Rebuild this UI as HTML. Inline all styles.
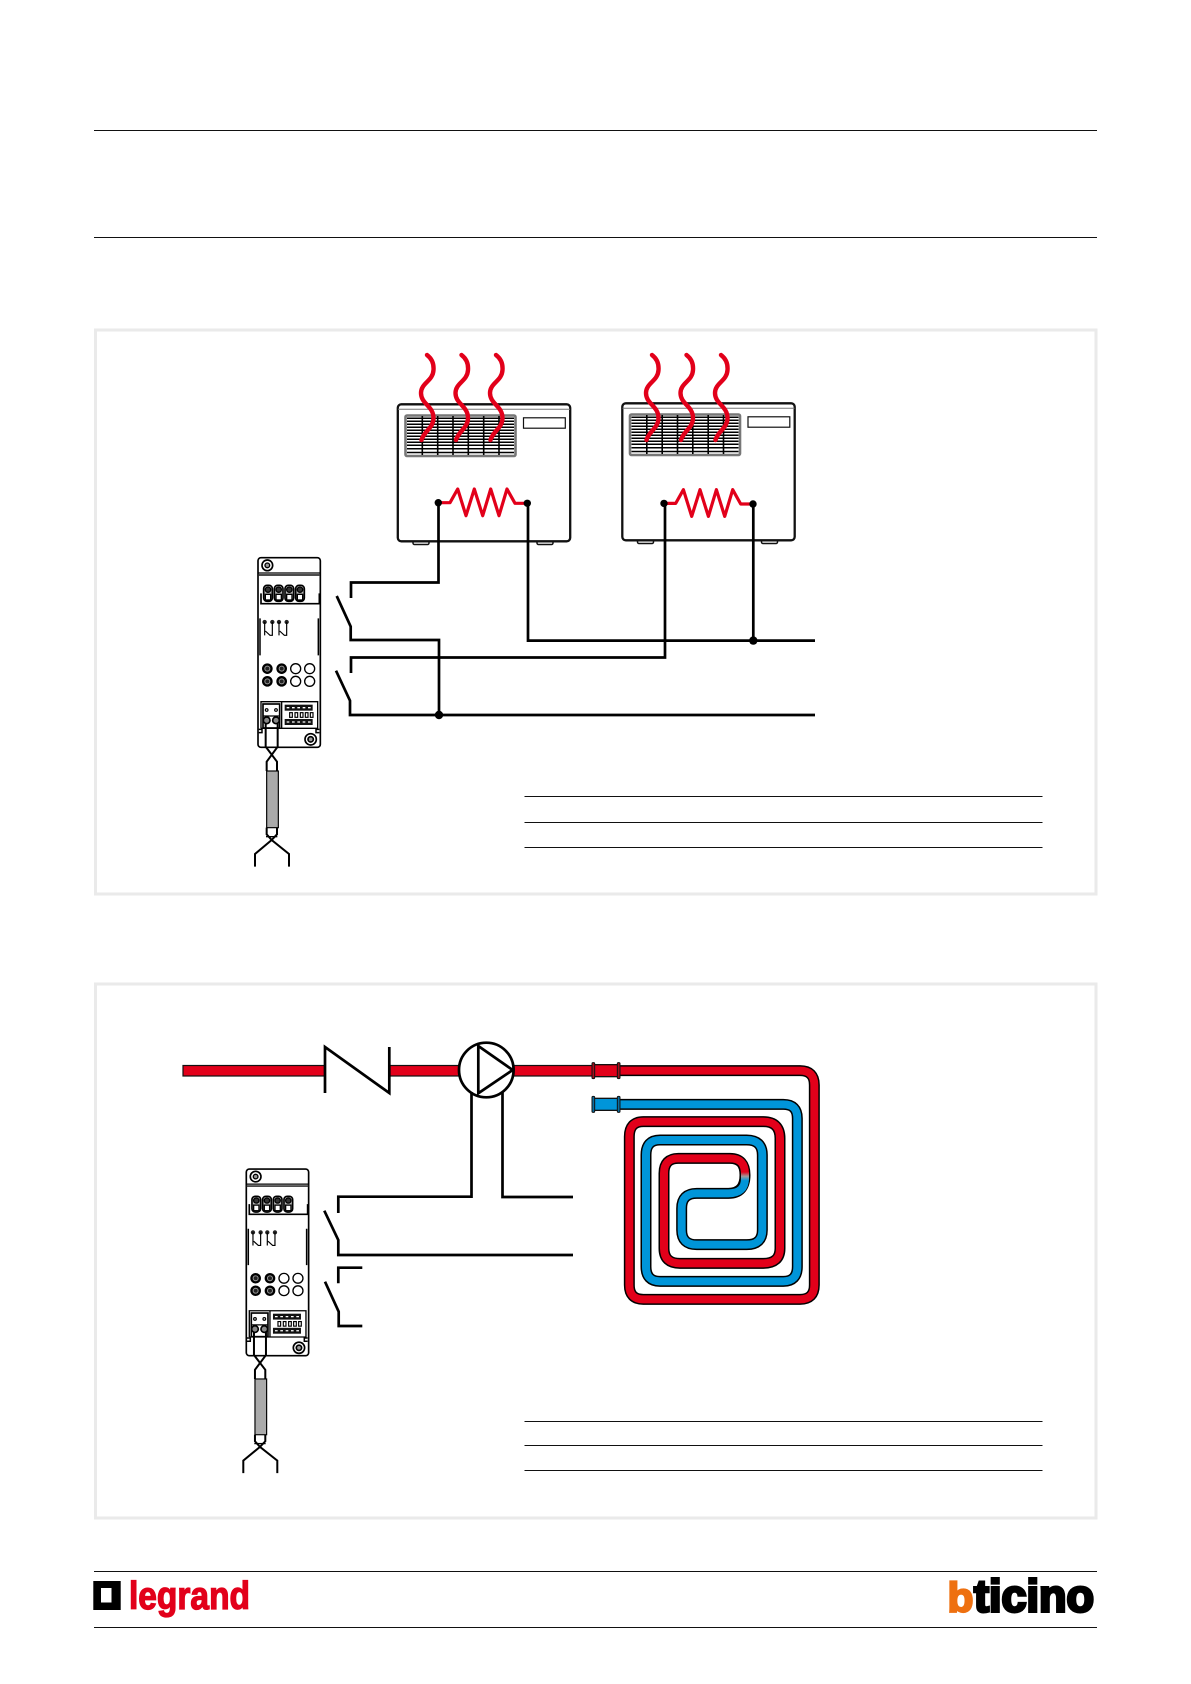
<!DOCTYPE html>
<html><head><meta charset="utf-8"><style>
html,body{margin:0;padding:0;background:#fff}
svg{display:block}
</style></head><body>
<svg xmlns="http://www.w3.org/2000/svg" width="1191" height="1684" viewBox="0 0 1191 1684">
<defs>
<linearGradient id="jn" gradientUnits="userSpaceOnUse" x1="495" y1="366" x2="495" y2="392">
  <stop offset="0" stop-color="#e2001a"/><stop offset=".5" stop-color="#a09a9a"/><stop offset="1" stop-color="#0095d9"/>
</linearGradient>
<g id="waves" fill="none" stroke="#e2001a" stroke-width="4.400" stroke-linecap="round">
  <path d="M427 355C431 358 434 363 433.500 370C433 381 421 383 421 393C421 404 433.500 406 433.500 418C433.500 428 424 431 421.500 440"/>
  <path d="M461.500 355C465.500 358 468.500 363 468 370C467.500 381 455.500 383 455.500 393C455.500 404 468 406 468 418C468 428 458.500 431 456 440"/>
  <path d="M496 355C500 358 503 363 502.500 370C502 381 490 383 490 393C490 404 502.500 406 502.500 418C502.500 428 493 431 490.500 440"/>
</g>
<g id="box">
  <rect x="413" y="540" width="16" height="4.500" rx="1.500" fill="#fff" stroke="#111" stroke-width="1.500"/>
  <rect x="537" y="540" width="16" height="4.500" rx="1.500" fill="#fff" stroke="#111" stroke-width="1.500"/>
  <rect x="397.800" y="404.300" width="172.400" height="137" rx="3.500" fill="#fff" stroke="#111" stroke-width="2.300"/>
  <path d="M398 409.300H570" stroke="#777" stroke-width="1"/>
  <rect x="405.500" y="415.500" width="110" height="40.500" rx="1.500" fill="#fff" stroke="#777" stroke-width="2.600"/>
  <path d="M407 418.200H514M407 421.200H514M407 424.200H514M407 427.200H514M407 430.200H514M407 433.200H514M407 436.200H514M407 439.200H514M407 442.200H514M407 445.200H514M407 448.700H514M407 452.500H514" stroke="#000" stroke-width="1.500"/>
  <path d="M422.300 416V455M437.700 416V455M453 416V455M468.300 416V455M483.700 416V455M499 416V455" stroke="#000" stroke-width="1.600"/>
  <rect x="523.500" y="417.800" width="41.800" height="10.400" fill="#fff" stroke="#111" stroke-width="1.200"/>
</g>
<g id="res">
  <path d="M438.300 502.700H450L457.700 489L466 515.700L474.300 489L482.700 515.700L490.700 489L499 515.700L507 489L515 503.300H527.300" fill="none" stroke="#e2001a" stroke-width="3.200" stroke-linejoin="round"/>
  <circle cx="438.300" cy="502.700" r="3.700" fill="#000"/>
  <circle cx="527.300" cy="503.300" r="3.700" fill="#000"/>
</g>
<g id="term">
  <rect x="101" y="106" width="26" height="48" rx="10" fill="#bbb" stroke-width="5"/><circle cx="114" cy="119" r="8" fill="#333" stroke-width="4"/><rect x="106" y="133" width="16" height="17" fill="#fff" stroke-width="4"/>
</g>
<g id="module" fill="none" stroke="#000" stroke-width="6">
  <rect x="84" y="23" width="187" height="569" rx="9" fill="#fff" stroke-width="5"/>
  <circle cx="112" cy="46" r="16" stroke-width="5"/><circle cx="112" cy="46" r="7" fill="#999" stroke-width="4"/>
  <path d="M85 69H270" stroke="#000" stroke-width="4"/><path d="M85 75H270" stroke="#333" stroke-width="5"/>
  <path d="M93 130V161H268V130" stroke-width="5"/>
  <use href="#term"/><use href="#term" x="32"/><use href="#term" x="64"/><use href="#term" x="96"/>
  <path d="M90 205V316M265 205V316" stroke-width="4.500"/>
  <g fill="#222" stroke="none"><circle cx="104" cy="216" r="6.500"/><circle cx="127" cy="216" r="6.500"/><circle cx="147" cy="216" r="6.500"/><circle cx="170" cy="216" r="6.500"/></g>
  <path d="M104 216V256M127 216V256H120L106 243M147 216V256M170 216V256H163L149 243" stroke-width="3.500"/>
  <g stroke-width="7" fill="#999">
    <circle cx="112" cy="356" r="12.500"/><circle cx="155" cy="356" r="12.500"/>
    <circle cx="112" cy="394" r="12.500"/><circle cx="155" cy="394" r="12.500"/>
  </g>
  <g fill="#222" stroke="none"><circle cx="112" cy="356" r="6"/><circle cx="155" cy="356" r="6"/><circle cx="112" cy="394" r="6"/><circle cx="155" cy="394" r="6"/></g>
  <g stroke-width="4"><circle cx="197" cy="356" r="15"/><circle cx="239" cy="356" r="15"/><circle cx="197" cy="394" r="15"/><circle cx="239" cy="394" r="15"/></g>
  <path d="M93 535V455H263V535H93" stroke-width="4"/>
  <path d="M155 455V535" stroke-width="4"/>
  <rect x="99" y="462" width="50" height="72" fill="#fff" stroke-width="5"/>
  <path d="M99 498H149" stroke-width="4"/>
  <circle cx="110" cy="480" r="4" stroke-width="3.500"/><circle cx="138" cy="480" r="4" stroke-width="3.500"/>
  <circle cx="110" cy="511" r="10" fill="#888" stroke-width="5"/><circle cx="138" cy="511" r="10" fill="#888" stroke-width="5"/>
  <rect x="164" y="464" width="84" height="18" fill="#111" stroke="none"/>
  <rect x="164" y="507" width="84" height="18" fill="#111" stroke="none"/>
  <path d="M170 473H248M170 516H248" stroke="#fff" stroke-width="4" stroke-dasharray="8 8"/>
  <g stroke-width="3.500"><rect x="179" y="488" width="8" height="14"/><rect x="195" y="488" width="8" height="14"/><rect x="211" y="488" width="8" height="14"/><rect x="226" y="488" width="8" height="14"/><rect x="241" y="488" width="8" height="14"/></g>
  <path d="M86 538H96V548H86M268 538H258V548H268" stroke-width="4.500"/>
  <circle cx="242" cy="568" r="17" stroke-width="5"/><circle cx="242" cy="568" r="8" fill="#999" stroke-width="5"/>
  <path d="M107 520V590L141 635V663M143 520V590L110 635V663" stroke-width="6"/>
  <rect x="110" y="663" width="35" height="170" fill="#aaa" stroke-width="3.500"/>
  <path d="M110 833V853L125 870L75 912V950M141 833V853L125 870L177 912V950" stroke-width="6"/>
  <path d="M108 860H142" stroke-width="4"/>
</g>
</defs>

<g stroke="#111" stroke-width="1">
<path d="M94 130.500H1097M94 237.500H1097M94 1571.500H1097M94 1627.500H1097"/>
</g>
<rect x="95.500" y="330" width="1000.500" height="564" fill="#fff" stroke="#eaeaea" stroke-width="3"/>
<rect x="95.500" y="984" width="1000.500" height="534" fill="#fff" stroke="#eaeaea" stroke-width="3"/>
<path d="M524.500 796.500H1042.500M524.500 822.500H1042.500M524.500 847.500H1042.500M524.500 1421.500H1042.500M524.500 1445.500H1042.500M524.500 1470.500H1042.500" stroke="#111" stroke-width="1"/>

<!-- heaters -->
<use href="#box"/><use href="#box" transform="translate(224.500,-1)"/>
<use href="#waves"/><use href="#waves" transform="translate(225,0)"/>
<use href="#res"/><use href="#res" transform="translate(225.700,0.700)"/>

<!-- wiring 1 -->
<g fill="none" stroke="#000" stroke-width="2.700">
<path d="M351 598V582.500H438.500V503"/>
<path d="M336.700 596L350.700 626.500V640H439V715"/>
<path d="M351 673V657.500H665V504"/>
<path d="M336 670.700L350 700.700V715H815"/>
<path d="M528 503V640.600H815"/>
<path d="M753.300 504V640.600"/>
</g>
<circle cx="439" cy="715" r="4.200" fill="#000"/>
<circle cx="753.300" cy="640.600" r="4.200" fill="#000"/>

<!-- modules -->
<use href="#module" transform="translate(230,550) scale(.33333)"/>
<use href="#module" transform="translate(218.300,1161.500) scale(.33333,.32800)"/>

<!-- pipe -->
<rect x="183" y="1065.500" width="142" height="10.500" fill="#e2001a" stroke="#111" stroke-width="1.200"/>
<rect x="389" y="1065.500" width="70" height="10.500" fill="#e2001a" stroke="#111" stroke-width="1.200"/>
<rect x="513" y="1065.500" width="81" height="10.500" fill="#e2001a" stroke="#111" stroke-width="1.200"/>
<path d="M325 1093V1047L389.300 1093V1047" fill="none" stroke="#000" stroke-width="2.700"/>
<circle cx="486.300" cy="1070" r="27.300" fill="#fff" stroke="#000" stroke-width="2.700"/>
<path d="M478.300 1046V1093.300L512.700 1070Z" fill="#fff" stroke="#000" stroke-width="2.700"/>

<!-- wiring 2 -->
<g fill="none" stroke="#000" stroke-width="2.700">
<path d="M338.300 1213V1196.700H471.500V1092"/>
<path d="M502.500 1092V1197H573"/>
<path d="M324.300 1210.700L338.300 1240V1255H573"/>
<path d="M338.300 1283.300V1267.700H362.300"/>
<path d="M325 1281.700L338.700 1311.700V1326H362.300"/>
</g>

<!-- spiral -->
<g transform="translate(580,1050) scale(.33333)" fill="none">
  <path d="M115 62H660Q703 62 703 105V705Q703 748 660 748H190Q148 748 148 705V260Q148 215 190 215H550Q600 215 600 265V595Q600 640 550 640H300Q252 640 252 595V370Q252 325 295 325H450Q495 325 495 375Q495 430 445 430H350Q305 430 305 475V540Q305 584 350 584H500Q547 584 547 540V315Q547 270 500 270H240Q198 270 198 315V650Q198 694 240 694H610Q652 694 652 650V205Q652 163 610 163H115" stroke="#000" stroke-width="33"/>
  <path d="M115 62H660Q703 62 703 105V705Q703 748 660 748H190Q148 748 148 705V260Q148 215 190 215H550Q600 215 600 265V595Q600 640 550 640H300Q252 640 252 595V370Q252 325 295 325H450Q495 325 495 372" stroke="#e2001a" stroke-width="24"/>
  <path d="M495 385Q495 430 445 430H350Q305 430 305 475V540Q305 584 350 584H500Q547 584 547 540V315Q547 270 500 270H240Q198 270 198 315V650Q198 694 240 694H610Q652 694 652 650V205Q652 163 610 163H115" stroke="#0095d9" stroke-width="24"/>
  <path d="M495 366V392" stroke="url(#jn)" stroke-width="24"/>
  <rect x="40" y="44" width="76" height="36" fill="#e2001a" stroke="#111" stroke-width="4"/>
  <rect x="36" y="38" width="8" height="48" rx="3" fill="#a3101c" stroke="#111" stroke-width="3"/>
  <rect x="112" y="38" width="8" height="48" rx="3" fill="#a3101c" stroke="#111" stroke-width="3"/>
  <rect x="40" y="145" width="76" height="36" fill="#0095d9" stroke="#111" stroke-width="4"/>
  <rect x="36" y="139" width="8" height="48" rx="3" fill="#0a6ea0" stroke="#111" stroke-width="3"/>
  <rect x="112" y="139" width="8" height="48" rx="3" fill="#0a6ea0" stroke="#111" stroke-width="3"/>
</g>

<!-- logos -->
<rect x="93.300" y="1581" width="27.400" height="29" fill="#000"/>
<rect x="101" y="1588" width="10.500" height="14.500" fill="#fff"/>
<text x="129" y="1609" font-family="'Liberation Sans',sans-serif" font-weight="bold" font-size="39" fill="#e2001a" stroke="#e2001a" stroke-width="1.300" textLength="121" lengthAdjust="spacingAndGlyphs">legrand</text>
<text x="947.500" y="1612" font-family="'Liberation Sans',sans-serif" font-weight="bold" font-size="42" fill="#ee7010" stroke="#ee7010" stroke-width="2.200" textLength="26" lengthAdjust="spacingAndGlyphs">b</text>
<text x="974" y="1611.500" font-family="'Liberation Sans',sans-serif" font-weight="bold" font-size="45" fill="#000" stroke="#000" stroke-width="3" textLength="120" lengthAdjust="spacingAndGlyphs">ticino</text>
</svg>
</body></html>
